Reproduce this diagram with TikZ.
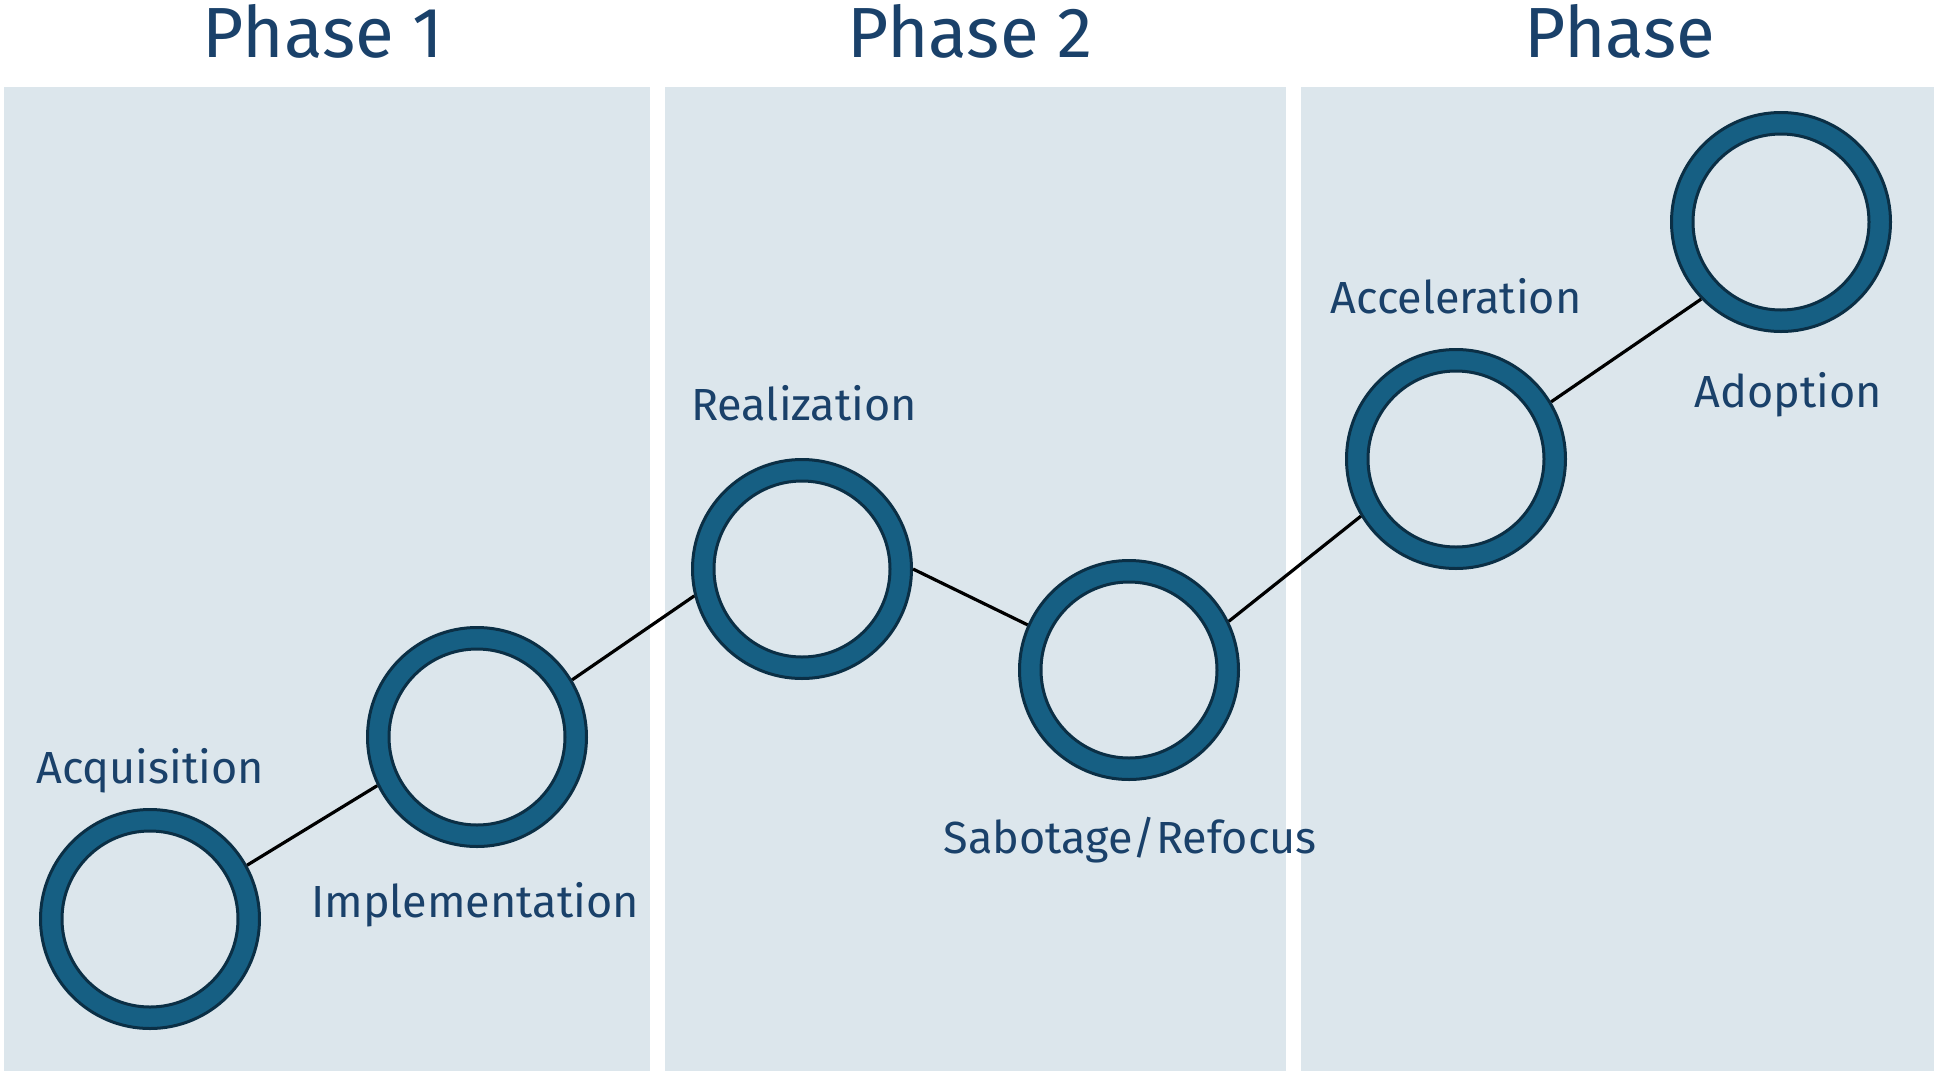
\documentclass[tikz,border=0pt]{standalone}
\usepackage{fontspec}
\setmainfont{Fira Sans}
\definecolor{panelbg}{HTML}{DCE6EC}
\definecolor{ringblue}{HTML}{165F83}
\definecolor{ringdark}{HTML}{0B2F45}
\definecolor{txtblue}{HTML}{1A416A}
\begin{document}
\begin{tikzpicture}[x=0.5pt,y=-0.5pt,
  panel/.style={fill=panelbg, draw=none},
  ring/.style={circle, draw=ringdark, line width=1.5pt, fill=ringblue,
    minimum size=109.5pt, inner sep=0pt,
    path picture={\filldraw[draw=ringdark, fill=panelbg, line width=1.5pt]
      (path picture bounding box.center) circle (44pt);}},
  link/.style={draw=black, line width=1.6pt},
  lbl/.style={text=txtblue, font=\fontsize{22.5pt}{26pt}\selectfont, anchor=base, inner sep=0pt},
  ttl/.style={text=txtblue, font=\fontsize{35.5pt}{40pt}\selectfont, anchor=base, inner sep=0pt}]
\useasboundingbox[fill=white] (0,0) rectangle (1934,1072);
% panels
\fill[panel] (4,87) rectangle (650,1071);
\fill[panel] (665,87) rectangle (1286,1071);
\fill[panel] (1301,87) rectangle (1934,1071);
% titles
\node[ttl] (t1) at (323,57) {Phase 1};
\node[ttl] (t2) at (970,57) {Phase 2};
\node[ttl] (t3) at (1620,57) {Phase};
% links (drawn first, rings cover the ends)
\path (150,919) coordinate (p1) (477,737) coordinate (p2) (802,569) coordinate (p3)
      (1129,670) coordinate (p4) (1456,459) coordinate (p5) (1781,222) coordinate (p6);
% rings
\node[ring] (c1) at (p1) {};
\node[ring] (c2) at (p2) {};
\node[ring] (c3) at (p3) {};
\node[ring] (c4) at (p4) {};
\node[ring] (c5) at (p5) {};
\node[ring] (c6) at (p6) {};
\draw[link] (c1.29) -- (c2.206.6);
\draw[link] (c2.31.6) -- (c3.194.5);
\draw[link] (c3.0) -- (c4.156);
\draw[link] (c4.26.5) -- (c5.211.3);
\draw[link] (c5.31) -- (c6.224);
% labels
\node[lbl] (l1) at (150,783) {Acquisition};
\node[lbl] (l2) at (475,917) {Implementation};
\node[lbl] (l3) at (804,420) {Realization};
\node[lbl] (l4) at (1130,853) {Sabotage/Refocus};
\node[lbl] (l5) at (1456,313) {Acceleration};
\node[lbl] (l6) at (1788,407) {Adoption};
\end{tikzpicture}
\end{document}
